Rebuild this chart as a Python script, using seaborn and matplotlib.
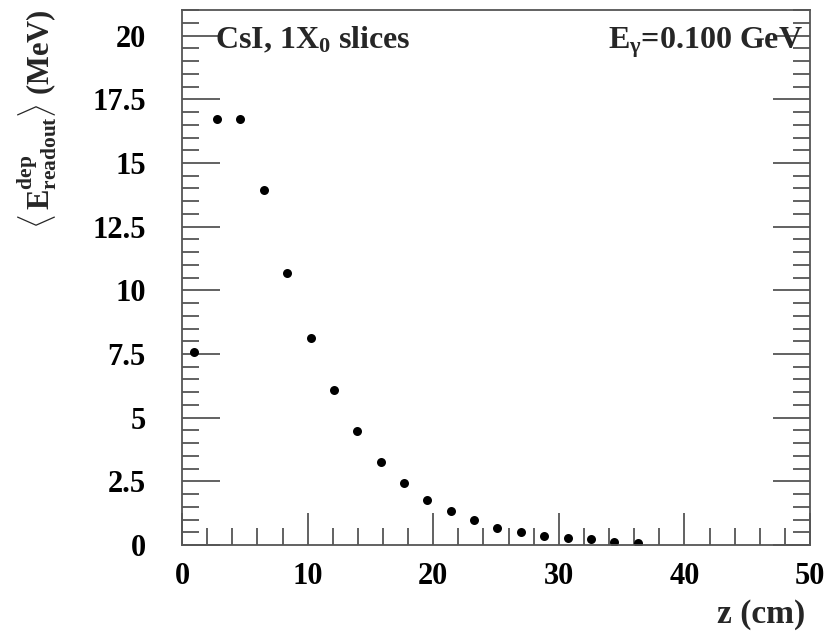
import numpy as np
import pandas as pd
import matplotlib
matplotlib.use("Agg")
import matplotlib.pyplot as plt
import seaborn as sns
from matplotlib.ticker import MultipleLocator

# ---------------- Data ---------------- #
z_cm = [0.93, 2.79, 4.65, 6.51, 8.37, 10.23, 12.09, 13.95, 15.81, 17.67,
        19.53, 21.39, 23.25, 25.11, 26.97, 28.83, 30.69, 32.55, 34.41, 36.27]
e_dep = [7.59, 16.72, 16.72, 13.93, 10.68, 8.14, 6.08, 4.47, 3.26, 2.44,
         1.75, 1.34, 0.99, 0.66, 0.50, 0.37, 0.29, 0.22, 0.10, 0.07]
df = pd.DataFrame({"z": z_cm, "E": e_dep})

# ---------------- Style ---------------- #
sns.set_style("ticks")
plt.rcParams["font.family"] = ["Liberation Serif", "DejaVu Serif"]
plt.rcParams["font.weight"] = "bold"
plt.rcParams["mathtext.fontset"] = "custom"
plt.rcParams["mathtext.rm"] = "Liberation Serif:bold"
plt.rcParams["mathtext.it"] = "Liberation Serif:bold"
plt.rcParams["mathtext.bf"] = "Liberation Serif:bold"

axis_col = "#555555"

fig = plt.figure(figsize=(8.32, 6.35), dpi=100)
ax = fig.add_axes([0.2188, 0.1417, 0.7548, 0.8423])

sns.scatterplot(data=df, x="z", y="E", ax=ax, color="black", s=42,
                edgecolor="black", linewidth=0, legend=False)

ax.set_xlim(0, 50)
ax.set_ylim(0, 21)
ax.xaxis.set_major_locator(MultipleLocator(10))
ax.xaxis.set_minor_locator(MultipleLocator(2))
ax.yaxis.set_major_locator(MultipleLocator(2.5))
ax.yaxis.set_minor_locator(MultipleLocator(0.5))
ax.yaxis.set_major_formatter(plt.FuncFormatter(lambda v, p: f"{v:g}"))

ax.tick_params(axis="both", which="both", direction="in", colors=axis_col,
               labelcolor="black", labelsize=22, width=1.3)
ax.tick_params(axis="y", which="major", length=27, right=True, pad=26)
ax.tick_params(axis="y", which="minor", length=12, right=True)
ax.tick_params(axis="x", which="major", length=23, top=False, pad=12)
ax.tick_params(axis="x", which="minor", length=12, top=False)
for lab in ax.get_xticklabels() + ax.get_yticklabels():
    lab.set_fontweight("bold")

for sp in ax.spines.values():
    sp.set_visible(True)
    sp.set_color(axis_col)
    sp.set_linewidth(1.3)

ax.set_xlabel("")
ax.set_ylabel("")
fig.text(0.968, 0.019, "z (cm)", ha="right", va="baseline", fontsize=24,
         fontweight="bold")
fig.text(0.045, 0.985,
         r"$\left\langle\, \mathrm{E}^{\mathrm{dep}}_{\mathrm{readout}} \right\rangle$ (MeV)",
         rotation=90, ha="center", va="top", fontsize=22, fontweight="bold")

ax.text(0.053, 0.972, r"CsI, 1X$_{0}$ slices", transform=ax.transAxes,
        ha="left", va="top", fontsize=23, fontweight="bold")
ax.text(0.988, 0.972, r"E$_{\gamma}$=0.100 GeV", transform=ax.transAxes,
        ha="right", va="top", fontsize=23, fontweight="bold")

fig.savefig("out.png", dpi=100)
